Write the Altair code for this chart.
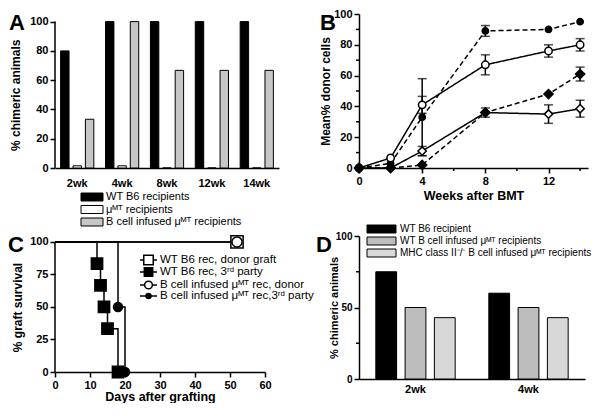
import altair as alt
import pandas as pd

FONT = "Liberation Sans, Arial, Helvetica, sans-serif"

# ---------------- Panel A data ----------------
a_weeks = ["2wk", "4wk", "8wk", "12wk", "14wk"]
a_groups = ["WT B6 recipients", "μᴹᵀ recipients", "B cell infused μᴹᵀ recipients"]
a_wt = [80, 100, 100, 100, 100]
a_mumt = [1.5, 1.5, 0, 0, 0]
a_binf = [33.3, 100, 66.7, 66.7, 66.7]
a_fills = ["#000000", "#ffffff", "#c6c6c6"]
a_yticks = [0, 20, 40, 60, 80, 100]

# ---------------- Panel B data ----------------
b_weeks = [0, 2, 4, 8, 12, 14]
b_names = ["Series 1", "Series 2", "Series 3", "Series 4"]
b_s1 = [0, 3, 33, 89, 90, 95]
b_s1_err = [0, 0, 25, 3.5, 0, 0]
b_s2 = [0, 6.5, 41, 67, 76, 80]
b_s2_err = [0, 0, 5.5, 6.5, 4, 4]
b_s3 = [0, 0, 11, 36, 35, 38.5]
b_s3_err = [0, 0, 3, 3, 6, 5.5]
b_s4 = [0, 0, 2, 36, 48, 61]
b_s4_err = [0, 0, 0, 0, 0, 4.5]
b_yticks = [0, 20, 40, 60, 80, 100]
b_yminor = [10, 30, 50, 70, 90]
b_xticks = [0, 4, 8, 12]
b_xminor = [2, 6, 10, 14]

# ---------------- Panel C data ----------------
c_names = ["WT B6 rec, donor graft", "WT B6 rec, 3ʳᵈ party",
           "B cell infused μᴹᵀ rec, donor", "B cell infused μᴹᵀ rec,3ʳᵈ party"]
c_t_wt_donor = [0, 52]
c_s_wt_donor = [100, 100]
c_t_wt_3rd = [0, 12, 13, 14, 15, 18]
c_s_wt_3rd = [100, 83.3, 66.7, 50, 33.3, 0]
c_t_b_donor = [0, 52]
c_s_b_donor = [100, 100]
c_t_b_3rd = [0, 18, 20]
c_s_b_3rd = [100, 50, 0]
c_xticks = [0, 10, 20, 30, 40, 50, 60]
c_yticks = [0, 25, 50, 75, 100]

# ---------------- Panel D data ----------------
d_weeks = ["2wk", "4wk"]
d_groups = ["WT B6 recipient", "WT B cell infused μᴹᵀ recipients",
            "MHC class II⁻/⁻ B cell infused μᴹᵀ recipients"]
d_wt = [75, 60]
d_wtb = [50, 50]
d_mhc = [42.9, 42.9]
d_fills = ["#000000", "#bdbdbd", "#d8d8d8"]
d_yticks = [0, 50, 100]
d_yminor = [25, 75]

# ---------------- layout constants ----------------
AW, AH = 224, 154
BW, BH = 229, 154
CW, CH = 210, 136
DW, DH = 226, 143
A_TOP = 105.2
C_TOP = 104.6
C_OFF = CH - CH * 100 / C_TOP  # pixel position of 100 in C
A_OFF = AH - AH * 100 / A_TOP


def one():
    return pd.DataFrame({"k": [0]})


def text_layer(txt, x, y, size=11, weight="normal", align="left", baseline="middle"):
    return alt.Chart(pd.DataFrame({"t": [txt]})).mark_text(
        font=FONT, fontSize=size, fontWeight=weight, align=align,
        baseline=baseline, color="black"
    ).encode(text="t:N", x=alt.value(x), y=alt.value(y))


def letter(txt, x):
    return text_layer(txt, x, -1, size=22, weight="bold", baseline="top")


def swatch(x0, x1, y0, y1, fill):
    return alt.Chart(one()).mark_rect(fill=fill, stroke="black", strokeWidth=1).encode(
        x=alt.value(x0), x2=alt.value(x1), y=alt.value(y0), y2=alt.value(y1))


def yaxis(values, title, tx, ty, domain=True, size=12, lsize=11):
    return alt.Axis(values=values, domain=domain, title=title, titleX=tx, titleY=ty,
                    titleAngle=270, titleBaseline="middle", titleAlign="center",
                    titleFontSize=size, labelFontSize=lsize)


def yline(ysc, yax, top=100):
    return alt.Chart(pd.DataFrame({"lo": [0], "hi": [top]})).mark_rule(
        color="black", strokeWidth=1.5).encode(
        x=alt.value(0), y=alt.Y("lo:Q", scale=ysc, axis=yax), y2="hi:Q")


def yminor(vals, ysc, yax):
    return alt.Chart(pd.DataFrame({"v": vals})).mark_rule(color="black", strokeWidth=1.5).encode(
        y=alt.Y("v:Q", scale=ysc, axis=yax), x=alt.value(-3), x2=alt.value(0))


# ================= Panel A =================
a_df = pd.DataFrame({
    "week": a_weeks * 3,
    "group": [g for g in a_groups for _ in a_weeks],
    "value": a_wt + a_mumt + a_binf,
})
a_ysc = alt.Scale(domain=[0, A_TOP], nice=False)
a_yax = yaxis(a_yticks, "% chimeric animals", -40, (A_OFF + AH) / 2, domain=False)
a_bars = alt.Chart(a_df).mark_bar(stroke="black", strokeWidth=1).encode(
    x=alt.X("week:N", sort=a_weeks, scale=alt.Scale(paddingInner=0.26, paddingOuter=0.125),
            axis=alt.Axis(title=None, ticks=False, labelAngle=0, labelPadding=9)),
    xOffset=alt.XOffset("group:N", sort=a_groups,
                        scale=alt.Scale(paddingInner=0.32, paddingOuter=0)),
    y=alt.Y("value:Q", scale=a_ysc, axis=a_yax),
    fill=alt.Fill("group:N", scale=alt.Scale(domain=a_groups, range=a_fills), legend=None),
)
a_layers = [a_bars, yline(a_ysc, a_yax), letter("A", -46)]
for i, (g, f) in enumerate(zip(a_groups, a_fills)):
    yy = AH + 29 + i * 12.5
    a_layers.append(swatch(26, 48, yy - 4, yy + 4, f))
    a_layers.append(text_layer(g, 51, yy, size=11))
panel_a = alt.layer(*a_layers).properties(width=AW, height=AH)

# ================= Panel B =================
rows = []
for name, vals, errs in zip(b_names, [b_s1, b_s2, b_s3, b_s4],
                            [b_s1_err, b_s2_err, b_s3_err, b_s4_err]):
    for w, v, e in zip(b_weeks, vals, errs):
        rows.append({"series": name, "week": w, "value": v, "err": e,
                     "lo": v - e, "hi": v + e})
b_df = pd.DataFrame(rows)
b_eb = b_df[b_df["err"] > 0]

b_xsc = alt.Scale(domain=[0, 14.5], nice=False)
b_xax = alt.Axis(values=b_xticks, title="Weeks after BMT", titleX=BW / 2,
                 titleY=27, titleBaseline="middle")
b_ysc = alt.Scale(domain=[0, 100], nice=False)
b_yax = yaxis(b_yticks, "Mean% donor cells", -34, BH / 2)


def bx(f="week"):
    return alt.X(f + ":Q", scale=b_xsc, axis=b_xax)


def by(f="value"):
    return alt.Y(f + ":Q", scale=b_ysc, axis=b_yax)


b_lines = alt.Chart(b_df).mark_line(color="black", strokeWidth=1.5).encode(
    x=bx(), y=by(), detail="series:N",
    strokeDash=alt.StrokeDash("series:N", scale=alt.Scale(
        domain=b_names, range=[[5, 3], [1, 0], [1, 0], [5, 3]]), legend=None),
)
b_rule = alt.Chart(b_eb).mark_rule(color="black", strokeWidth=1.5).encode(
    x=bx(), y=by("lo"), y2="hi:Q")
b_cap_hi = alt.Chart(b_eb).mark_tick(color="black", orient="horizontal", size=9, thickness=1.5).encode(
    x=bx(), y=by("hi"))
b_cap_lo = alt.Chart(b_eb).mark_tick(color="black", orient="horizontal", size=9, thickness=1.5).encode(
    x=bx(), y=by("lo"))
b_pts = alt.Chart(b_df).mark_point(filled=True, stroke="black", strokeWidth=1.5, opacity=1).encode(
    x=bx(), y=by(),
    shape=alt.Shape("series:N", scale=alt.Scale(domain=b_names,
                    range=["circle", "circle", "diamond", "diamond"]), legend=None),
    fill=alt.Fill("series:N", scale=alt.Scale(domain=b_names,
                  range=["black", "white", "white", "black"]), legend=None),
    size=alt.Size("series:N", scale=alt.Scale(domain=b_names, range=[40, 85, 60, 35]), legend=None),
)
b_xmin = alt.Chart(pd.DataFrame({"v": b_xminor})).mark_rule(color="black", strokeWidth=1.5).encode(
    x=bx("v"), y=alt.value(BH), y2=alt.value(BH + 3))
panel_b = alt.layer(
    b_lines, b_rule, b_cap_hi, b_cap_lo, b_pts, yminor(b_yminor, b_ysc, b_yax), b_xmin,
    letter("B", -39),
).properties(width=BW, height=BH)

# ================= Panel C =================
c_rows = []
for name, ts, ss in zip(c_names, [c_t_wt_donor, c_t_wt_3rd, c_t_b_donor, c_t_b_3rd],
                        [c_s_wt_donor, c_s_wt_3rd, c_s_b_donor, c_s_b_3rd]):
    for t, s in zip(ts, ss):
        c_rows.append({"series": name, "day": t, "surv": s})
c_df = pd.DataFrame(c_rows)
c_mk = c_df[c_df["day"] > 0]

c_shapes = ["square", "square", "circle", "circle"]
c_fillc = ["white", "black", "white", "black"]
c_sizes = [150, 80, 60, 30]

c_xsc = alt.Scale(domain=[0, 60], nice=False)
c_xax = alt.Axis(values=c_xticks, title="Days after grafting", titleX=CW / 2,
                 titleY=24, titleBaseline="middle")
c_ysc = alt.Scale(domain=[0, C_TOP], nice=False)
c_yax = yaxis(c_yticks, "% graft survival", -38, (C_OFF + CH) / 2, domain=False)

c_lines = alt.Chart(c_df).mark_line(color="black", strokeWidth=1.5, interpolate="step-after").encode(
    x=alt.X("day:Q", scale=c_xsc, axis=c_xax),
    y=alt.Y("surv:Q", scale=c_ysc, axis=c_yax),
    detail="series:N",
)
c_pts = alt.Chart(c_mk).mark_point(filled=True, stroke="black", strokeWidth=1.5, opacity=1).encode(
    x=alt.X("day:Q", scale=c_xsc, axis=c_xax),
    y=alt.Y("surv:Q", scale=c_ysc, axis=c_yax),
    shape=alt.Shape("series:N", scale=alt.Scale(domain=c_names, range=c_shapes), legend=None),
    fill=alt.Fill("series:N", scale=alt.Scale(domain=c_names, range=c_fillc), legend=None),
    size=alt.Size("series:N", scale=alt.Scale(domain=c_names, range=c_sizes), legend=None),
)
c_layers = [c_lines, c_pts, yline(c_ysc, c_yax), letter("C", -47)]
c_leg_y = [24, 36, 49, 60]
c_leg_size = [90, 70, 60, 25]
for name, yy, shp, fc, sz in zip(c_names, c_leg_y, c_shapes, c_fillc, c_leg_size):
    c_layers.append(alt.Chart(one()).mark_rule(color="black", strokeWidth=1.5).encode(
        x=alt.value(85), x2=alt.value(102), y=alt.value(yy)))
    c_layers.append(alt.Chart(one()).mark_point(
        shape=shp, filled=True, fill=fc, stroke="black", strokeWidth=1.5, size=sz, opacity=1
    ).encode(x=alt.value(93.5), y=alt.value(yy)))
    c_layers.append(text_layer(name, 105, yy, size=11.5))
panel_c = alt.layer(*c_layers).properties(width=CW, height=CH)

# ================= Panel D =================
d_df = pd.DataFrame({
    "week": d_weeks * 3,
    "group": [g for g in d_groups for _ in d_weeks],
    "value": d_wt + d_wtb + d_mhc,
})
d_ysc = alt.Scale(domain=[0, 100], nice=False)
d_yax = yaxis(d_yticks, "% chimeric animals", -25, DH / 2, size=11, lsize=10)
d_bars = alt.Chart(d_df).mark_bar(stroke="black", strokeWidth=1).encode(
    x=alt.X("week:N", sort=d_weeks, scale=alt.Scale(paddingInner=0.22, paddingOuter=0.11),
            axis=alt.Axis(title=None, ticks=False, labelAngle=0, labelPadding=4)),
    xOffset=alt.XOffset("group:N", sort=d_groups,
                        scale=alt.Scale(paddingInner=0.29, paddingOuter=0.15)),
    y=alt.Y("value:Q", scale=d_ysc, axis=d_yax),
    fill=alt.Fill("group:N", scale=alt.Scale(domain=d_groups, range=d_fills), legend=None),
)
d_layers = [d_bars, yminor(d_yminor, d_ysc, d_yax), letter("D", -43)]
for i, (g, f) in enumerate(zip(d_groups, d_fills)):
    yy = -7 + i * 12
    d_layers.append(swatch(8, 37, yy - 4, yy + 4, f))
    d_layers.append(text_layer(g, 41, yy, size=10))
panel_d = alt.layer(*d_layers).properties(width=DW, height=DH)

chart = alt.concat(
    panel_a, panel_b, panel_c, panel_d,
    columns=2, spacing={"row": 68, "column": 80}, bounds="flush",
).resolve_scale(
    fill="independent", shape="independent", size="independent",
    strokeDash="independent", xOffset="independent",
).properties(padding=0).configure(font=FONT).configure_axis(
    labelFont=FONT, labelFontWeight="bold", labelFontSize=11, labelColor="black",
    titleFont=FONT, titleFontWeight="bold", titleFontSize=12.5, titleColor="black",
    domainColor="black", domainWidth=1.5, tickColor="black", tickWidth=1.5,
    tickSize=5, grid=False, labelPadding=2, labelFlush=False,
).configure_view(stroke=None)

chart.save("out.html", embed_options={"renderer": "svg", "actions": False})
